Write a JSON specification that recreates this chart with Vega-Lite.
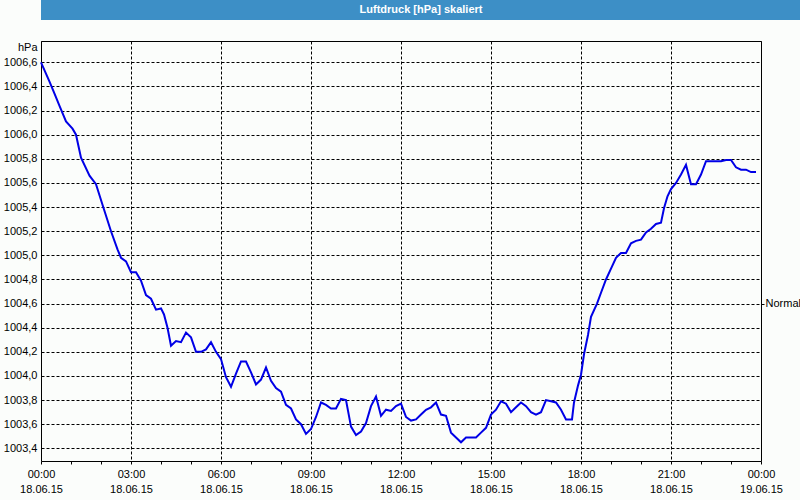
{
  "$schema": "https://vega.github.io/schema/vega-lite/v6.json",
  "background": "#fbfdfb",
  "padding": 0,
  "columns": 1,
  "align": "none",
  "spacing": 20,
  "config": {
    "view": {"stroke": "#000", "strokeWidth": 1},
    "axis": {"labelFont": "Liberation Sans", "labelFontSize": 11, "labelColor": "#000"}
  },
  "concat": [
    {
      "width": 760,
      "height": 20,
      "view": {"fill": "#3d8fc6", "stroke": null},
      "data": {"values": [{"label": "Luftdruck [hPa] skaliert"}]},
      "mark": {"type": "text", "color": "#ffffff", "fontWeight": "bold", "fontSize": 11, "font": "Liberation Sans"},
      "encoding": {"text": {"field": "label"}}
    },
    {
      "width": 720,
      "height": 420,
      "data": {"values": [
        {"t": "2015-06-18T00:00", "p": 1006.60},
        {"t": "2015-06-18T00:17", "p": 1006.44},
        {"t": "2015-06-18T00:27", "p": 1006.34},
        {"t": "2015-06-18T00:37", "p": 1006.24},
        {"t": "2015-06-18T00:50", "p": 1006.11},
        {"t": "2015-06-18T01:03", "p": 1006.05},
        {"t": "2015-06-18T01:10", "p": 1006.00},
        {"t": "2015-06-18T01:20", "p": 1005.81},
        {"t": "2015-06-18T01:37", "p": 1005.66},
        {"t": "2015-06-18T01:50", "p": 1005.59},
        {"t": "2015-06-18T02:03", "p": 1005.42},
        {"t": "2015-06-18T02:20", "p": 1005.20},
        {"t": "2015-06-18T02:33", "p": 1005.05},
        {"t": "2015-06-18T02:40", "p": 1004.98},
        {"t": "2015-06-18T02:50", "p": 1004.95},
        {"t": "2015-06-18T03:00", "p": 1004.86},
        {"t": "2015-06-18T03:10", "p": 1004.86},
        {"t": "2015-06-18T03:20", "p": 1004.79},
        {"t": "2015-06-18T03:30", "p": 1004.67},
        {"t": "2015-06-18T03:40", "p": 1004.64},
        {"t": "2015-06-18T03:50", "p": 1004.55},
        {"t": "2015-06-18T04:00", "p": 1004.56},
        {"t": "2015-06-18T04:06", "p": 1004.51},
        {"t": "2015-06-18T04:13", "p": 1004.40},
        {"t": "2015-06-18T04:20", "p": 1004.25},
        {"t": "2015-06-18T04:30", "p": 1004.29},
        {"t": "2015-06-18T04:40", "p": 1004.28},
        {"t": "2015-06-18T04:50", "p": 1004.36},
        {"t": "2015-06-18T05:00", "p": 1004.32},
        {"t": "2015-06-18T05:10", "p": 1004.20},
        {"t": "2015-06-18T05:20", "p": 1004.20},
        {"t": "2015-06-18T05:30", "p": 1004.22},
        {"t": "2015-06-18T05:40", "p": 1004.28},
        {"t": "2015-06-18T05:50", "p": 1004.20},
        {"t": "2015-06-18T06:00", "p": 1004.14},
        {"t": "2015-06-18T06:10", "p": 1003.99},
        {"t": "2015-06-18T06:20", "p": 1003.91},
        {"t": "2015-06-18T06:30", "p": 1004.02},
        {"t": "2015-06-18T06:40", "p": 1004.12},
        {"t": "2015-06-18T06:50", "p": 1004.12},
        {"t": "2015-06-18T07:00", "p": 1004.03},
        {"t": "2015-06-18T07:10", "p": 1003.93},
        {"t": "2015-06-18T07:20", "p": 1003.97},
        {"t": "2015-06-18T07:30", "p": 1004.07},
        {"t": "2015-06-18T07:40", "p": 1003.96},
        {"t": "2015-06-18T07:50", "p": 1003.90},
        {"t": "2015-06-18T08:00", "p": 1003.87},
        {"t": "2015-06-18T08:10", "p": 1003.76},
        {"t": "2015-06-18T08:20", "p": 1003.73},
        {"t": "2015-06-18T08:30", "p": 1003.64},
        {"t": "2015-06-18T08:40", "p": 1003.60},
        {"t": "2015-06-18T08:50", "p": 1003.52},
        {"t": "2015-06-18T09:00", "p": 1003.56},
        {"t": "2015-06-18T09:10", "p": 1003.66},
        {"t": "2015-06-18T09:20", "p": 1003.78},
        {"t": "2015-06-18T09:30", "p": 1003.76},
        {"t": "2015-06-18T09:40", "p": 1003.73},
        {"t": "2015-06-18T09:50", "p": 1003.73},
        {"t": "2015-06-18T10:00", "p": 1003.81},
        {"t": "2015-06-18T10:10", "p": 1003.80},
        {"t": "2015-06-18T10:20", "p": 1003.58},
        {"t": "2015-06-18T10:30", "p": 1003.51},
        {"t": "2015-06-18T10:40", "p": 1003.54},
        {"t": "2015-06-18T10:50", "p": 1003.61},
        {"t": "2015-06-18T11:00", "p": 1003.75},
        {"t": "2015-06-18T11:10", "p": 1003.83},
        {"t": "2015-06-18T11:20", "p": 1003.67},
        {"t": "2015-06-18T11:30", "p": 1003.72},
        {"t": "2015-06-18T11:40", "p": 1003.71},
        {"t": "2015-06-18T11:50", "p": 1003.75},
        {"t": "2015-06-18T12:00", "p": 1003.77},
        {"t": "2015-06-18T12:10", "p": 1003.66},
        {"t": "2015-06-18T12:20", "p": 1003.63},
        {"t": "2015-06-18T12:30", "p": 1003.64},
        {"t": "2015-06-18T12:40", "p": 1003.68},
        {"t": "2015-06-18T12:50", "p": 1003.72},
        {"t": "2015-06-18T13:00", "p": 1003.74},
        {"t": "2015-06-18T13:10", "p": 1003.78},
        {"t": "2015-06-18T13:20", "p": 1003.68},
        {"t": "2015-06-18T13:30", "p": 1003.67},
        {"t": "2015-06-18T13:40", "p": 1003.53},
        {"t": "2015-06-18T13:50", "p": 1003.49},
        {"t": "2015-06-18T14:00", "p": 1003.45},
        {"t": "2015-06-18T14:10", "p": 1003.49},
        {"t": "2015-06-18T14:20", "p": 1003.49},
        {"t": "2015-06-18T14:30", "p": 1003.49},
        {"t": "2015-06-18T14:40", "p": 1003.53},
        {"t": "2015-06-18T14:50", "p": 1003.57},
        {"t": "2015-06-18T15:00", "p": 1003.68},
        {"t": "2015-06-18T15:10", "p": 1003.72},
        {"t": "2015-06-18T15:20", "p": 1003.79},
        {"t": "2015-06-18T15:30", "p": 1003.77},
        {"t": "2015-06-18T15:40", "p": 1003.70},
        {"t": "2015-06-18T15:50", "p": 1003.74},
        {"t": "2015-06-18T16:00", "p": 1003.78},
        {"t": "2015-06-18T16:10", "p": 1003.75},
        {"t": "2015-06-18T16:20", "p": 1003.70},
        {"t": "2015-06-18T16:30", "p": 1003.68},
        {"t": "2015-06-18T16:40", "p": 1003.70},
        {"t": "2015-06-18T16:50", "p": 1003.80},
        {"t": "2015-06-18T17:00", "p": 1003.79},
        {"t": "2015-06-18T17:10", "p": 1003.78},
        {"t": "2015-06-18T17:20", "p": 1003.72},
        {"t": "2015-06-18T17:30", "p": 1003.64},
        {"t": "2015-06-18T17:40", "p": 1003.64},
        {"t": "2015-06-18T17:42", "p": 1003.64},
        {"t": "2015-06-18T17:46", "p": 1003.78},
        {"t": "2015-06-18T17:54", "p": 1003.92},
        {"t": "2015-06-18T18:00", "p": 1004.01},
        {"t": "2015-06-18T18:06", "p": 1004.18},
        {"t": "2015-06-18T18:14", "p": 1004.34},
        {"t": "2015-06-18T18:20", "p": 1004.49},
        {"t": "2015-06-18T18:32", "p": 1004.60},
        {"t": "2015-06-18T18:40", "p": 1004.69},
        {"t": "2015-06-18T18:50", "p": 1004.80},
        {"t": "2015-06-18T19:00", "p": 1004.89},
        {"t": "2015-06-18T19:10", "p": 1004.98},
        {"t": "2015-06-18T19:20", "p": 1005.02},
        {"t": "2015-06-18T19:30", "p": 1005.02},
        {"t": "2015-06-18T19:40", "p": 1005.10},
        {"t": "2015-06-18T19:50", "p": 1005.12},
        {"t": "2015-06-18T20:00", "p": 1005.13},
        {"t": "2015-06-18T20:10", "p": 1005.19},
        {"t": "2015-06-18T20:20", "p": 1005.22},
        {"t": "2015-06-18T20:30", "p": 1005.26},
        {"t": "2015-06-18T20:40", "p": 1005.27},
        {"t": "2015-06-18T20:46", "p": 1005.39},
        {"t": "2015-06-18T20:53", "p": 1005.49},
        {"t": "2015-06-18T21:00", "p": 1005.55},
        {"t": "2015-06-18T21:10", "p": 1005.60},
        {"t": "2015-06-18T21:20", "p": 1005.67},
        {"t": "2015-06-18T21:30", "p": 1005.75},
        {"t": "2015-06-18T21:40", "p": 1005.59},
        {"t": "2015-06-18T21:50", "p": 1005.59},
        {"t": "2015-06-18T22:00", "p": 1005.67},
        {"t": "2015-06-18T22:10", "p": 1005.78},
        {"t": "2015-06-18T22:20", "p": 1005.78},
        {"t": "2015-06-18T22:30", "p": 1005.78},
        {"t": "2015-06-18T22:40", "p": 1005.78},
        {"t": "2015-06-18T22:50", "p": 1005.79},
        {"t": "2015-06-18T23:00", "p": 1005.79},
        {"t": "2015-06-18T23:10", "p": 1005.73},
        {"t": "2015-06-18T23:20", "p": 1005.71},
        {"t": "2015-06-18T23:30", "p": 1005.71},
        {"t": "2015-06-18T23:40", "p": 1005.69},
        {"t": "2015-06-18T23:50", "p": 1005.69}
      ]},
      "encoding": {
        "x": {
          "field": "t",
          "type": "temporal",
          "scale": {"nice": "day"},
          "axis": {
            "title": null,
            "tickCount": 24,
            "labelExpr": "hours(datum.value) % 3 == 0 ? [timeFormat(datum.value, '%H:%M'), timeFormat(datum.value, '%d.%m.%y')] : ''",
            "labelOverlap": false,
            "labelFlush": false,
            "labelLineHeight": 15,
            "labelPadding": 4,
            "tickSize": 3,
            "tickColor": "#000",
            "domain": false,
            "grid": true,
            "gridColor": "#000",
            "gridDash": [3, 2],
            "gridOpacity": {"condition": {"test": "hours(datum.value) % 3 == 0", "value": 1}, "value": 0},
            "minExtent": 40,
            "maxExtent": 40
          }
        }
      },
      "layer": [
        {
          "mark": {"type": "line", "color": "#0000e6", "strokeWidth": 2},
          "encoding": {
            "y": {
              "field": "p",
              "type": "quantitative",
              "scale": {"domain": [1003.295, 1006.777], "nice": false, "zero": false},
              "axis": {
                "title": "hPa",
                "titleAngle": 0,
                "titleAlign": "right",
                "titleBaseline": "middle",
                "titleX": -4,
                "titleY": 6,
                "titleFont": "Liberation Sans",
                "titleFontSize": 11,
                "titleFontWeight": "normal",
                "titleColor": "#000",
                "values": [1003.4, 1003.6, 1003.8, 1004.0, 1004.2, 1004.4, 1004.6, 1004.8, 1005.0, 1005.2, 1005.4, 1005.6, 1005.8, 1006.0, 1006.2, 1006.4, 1006.6],
                "labelExpr": "replace(format(datum.value, '.1f'), '.', ',')",
                "tickSize": 0,
                "labelPadding": 4,
                "domain": false,
                "grid": true,
                "gridColor": "#000",
                "gridDash": [3, 2],
                "minExtent": 40,
                "maxExtent": 40
              }
            }
          }
        },
        {
          "mark": {"type": "line", "opacity": 0},
          "encoding": {
            "y": {
              "field": "p",
              "type": "quantitative",
              "axis": {
                "orient": "right",
                "title": null,
                "values": [1004.6],
                "labelExpr": "'Normal'",
                "tickSize": 3,
                "tickColor": "#000",
                "labelPadding": 1,
                "grid": false,
                "domain": false,
                "minExtent": 40,
                "maxExtent": 40
              }
            }
          }
        }
      ],
      "resolve": {"axis": {"y": "independent"}}
    }
  ]
}
